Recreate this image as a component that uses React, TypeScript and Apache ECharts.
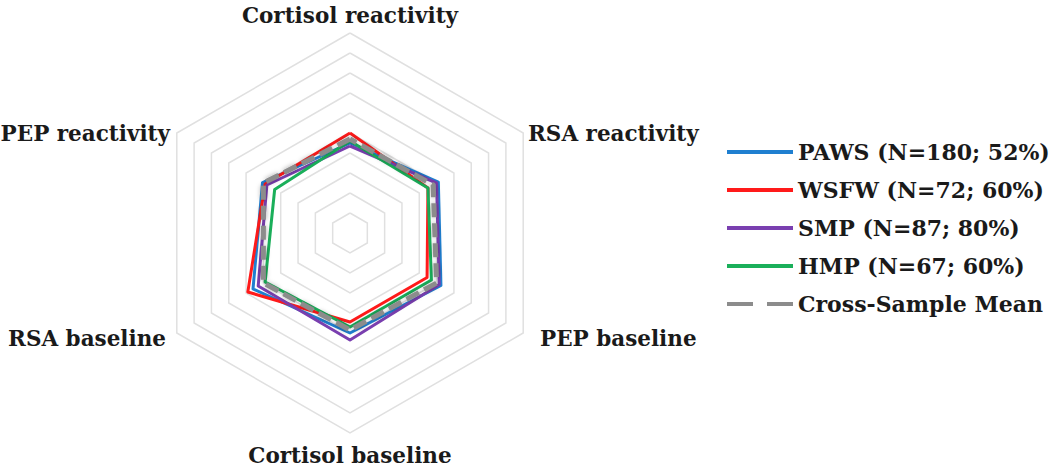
import React, { useEffect, useRef } from "react";
import * as echarts from "echarts";

// Indicator order (counter-clockwise from top, as ECharts lays out radar axes)
const indicators = [
  "Cortisol reactivity",
  "PEP reactivity",
  "RSA baseline",
  "Cortisol baseline",
  "PEP baseline",
  "RSA reactivity",
];
const axisMax = 10;

const seriesNames = [
  "PAWS (N=180; 52%)",
  "WSFW (N=72; 60%)",
  "SMP (N=87; 80%)",
  "HMP (N=67; 60%)",
  "Cross-Sample Mean",
];
const paws = [4.5, 5.05, 5.6, 5.0, 5.25, 5.1];
const wsfw = [5.0, 4.9, 5.9, 4.45, 4.45, 4.5];
const smp = [4.35, 4.8, 5.3, 5.35, 5.15, 5.0];
const hmp = [4.6, 4.35, 4.9, 4.7, 4.7, 4.5];
const mean = [4.7, 5.0, 5.0, 4.85, 5.0, 4.8];
const seriesValues = [paws, wsfw, smp, hmp, mean];
const colors = ["#1f7fd0", "#ff1a1a", "#7a3fb0", "#1aaf5a", "#8c8c8c"];

const FONT = "'DejaVu Serif', serif";

export default function App() {
  const ref = useRef<HTMLDivElement>(null);
  useEffect(() => {
    document.body.style.margin = "0";
    const chart = echarts.init(ref.current!, null, { renderer: "svg" });
    const cx = 350;
    const cy = 233;
    const labelStyle = (text: string, x: number, y: number, align: string) => ({
      type: "text",
      x,
      y,
      style: {
        text,
        font: `bold 21.5px ${FONT}`,
        fill: "#1a1a1a",
        align,
        verticalAlign: "middle",
      },
    });
    const labelPos: [number, number, string][] = [
      [cx, 15, "center"],
      [170, 133, "right"],
      [166, 338, "right"],
      [cx, 455, "center"],
      [540, 338, "left"],
      [528, 133, "left"],
    ];
    const legendData = seriesNames.map((n, i) => ({
      name: n,
      icon:
        i === 4
          ? "path://M0,0H26V4H0Z M40,0H66V4H40Z"
          : "path://M0,0H66V4H0Z",
    }));
    chart.setOption({
      animation: false,
      backgroundColor: "#ffffff",
      color: colors,
      legend: {
        orient: "vertical",
        left: 722,
        top: 135,
        itemWidth: 66,
        itemHeight: 4,
        itemGap: 14,
        data: legendData,
        textStyle: {
          fontFamily: FONT,
          fontWeight: "bold",
          fontSize: 22,
          color: "#1a1a1a",
          lineHeight: 24,
        },
      },
      radar: {
        center: [cx, cy],
        radius: 200,
        startAngle: 90,
        shape: "polygon",
        splitNumber: 10,
        indicator: indicators.map((n) => ({ name: n, min: 0, max: axisMax })),
        axisName: { show: false },
        axisLine: { show: false },
        axisTick: { show: false },
        splitArea: { show: false },
        splitLine: { lineStyle: { color: "#e0e0e0", width: 1.5 } },
      },
      graphic: indicators.map((n, i) =>
        labelStyle(n, labelPos[i][0], labelPos[i][1], labelPos[i][2])
      ),
      series: [
        {
          type: "radar",
          symbol: "none",
          data: seriesValues.map((v, i) => ({
            name: seriesNames[i],
            value: v,
            lineStyle:
              i === 4
                ? {
                    color: colors[i],
                    width: 5,
                    type: [14, 6],
                    shadowBlur: 5,
                    shadowColor: "rgba(0,0,0,0.35)",
                  }
                : { color: colors[i], width: 3 },
            itemStyle: { color: colors[i] },
          })),
        },
      ],
    });
    return () => chart.dispose();
  }, []);
  return <div ref={ref} style={{ width: 1050, height: 468 }} />;
}
